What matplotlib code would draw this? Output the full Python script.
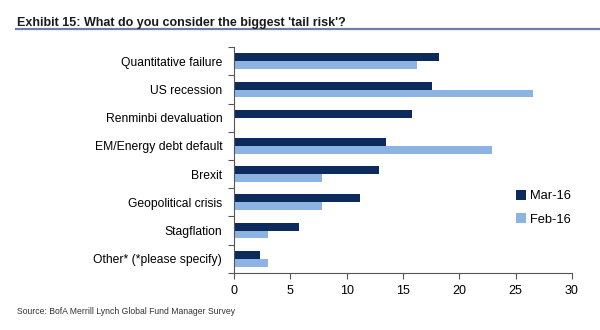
import matplotlib
matplotlib.use("Agg")
import matplotlib.pyplot as plt
import numpy as np

categories = [
    "Quantitative failure",
    "US recession",
    "Renminbi devaluation",
    "EM/Energy debt default",
    "Brexit",
    "Geopolitical crisis",
    "Stagflation",
    "Other* (*please specify)",
]
mar16 = [18.2, 17.6, 15.8, 13.5, 12.9, 11.2, 5.8, 2.3]
feb16 = [16.2, 26.5, 0.0, 22.9, 7.8, 7.8, 3.0, 3.0]
xticks = [0, 5, 10, 15, 20, 25, 30]

dark = "#0d2a5c"
light = "#8db3e2"
font = "Liberation Sans"

fig = plt.figure(figsize=(6, 3.3), dpi=100)
ax = fig.add_axes([0.39, 0.173, 0.5633, 0.684])

n = len(categories)
y = np.arange(n)
h = 0.28
ax.barh(y - h / 2, mar16, height=h, color=dark, label="Mar-16")
ax.barh(y + h / 2, feb16, height=h, color=light, label="Feb-16")

ax.set_xlim(0, 30)
ax.set_ylim(n - 0.5, -0.5)
ax.set_xticks(xticks)
ax.set_xticklabels([str(t) for t in xticks], fontsize=9, family=font)
ax.set_yticks(y)
ax.set_yticklabels(categories, fontsize=8.7, family=font)
ax.set_yticks(np.arange(n + 1) - 0.5, minor=True)
ax.tick_params(axis="y", which="major", length=0, pad=8.5)
ax.tick_params(axis="y", which="minor", length=4, color="#555555", width=0.8)
ax.tick_params(axis="x", length=4, color="#555555", width=0.8, pad=5)

for s in ("top", "right"):
    ax.spines[s].set_visible(False)
for s in ("left", "bottom"):
    ax.spines[s].set_color("#555555")
    ax.spines[s].set_linewidth(0.8)

ax.legend(loc="upper left", bbox_to_anchor=(0.80, 0.42), frameon=False,
          handlelength=0.8, handleheight=0.8, handletextpad=0.3,
          labelspacing=0.85, prop={"family": font, "size": 9.3})

fig.text(0.028, 0.921, "Exhibit 15: What do you consider the biggest 'tail risk'?",
         fontsize=9, fontweight="bold", family=font,
         color="#1a1a1a", va="baseline")
fig.add_artist(plt.Line2D([0.027, 1.0], [0.911, 0.911], color="#6f7f9f", linewidth=1.6))

fig.text(0.028, 0.055, "Source: BofA Merrill Lynch Global Fund Manager Survey",
         fontsize=6.2, family=font, color="#333333", va="center")

fig.savefig("out.png", dpi=100, facecolor="white")
